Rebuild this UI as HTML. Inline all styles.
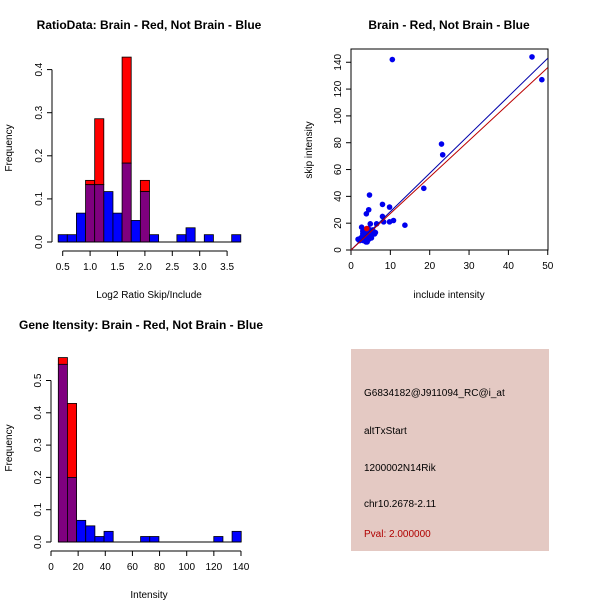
<!DOCTYPE html>
<html><head><meta charset="utf-8"><style>
html,body{margin:0;padding:0;background:#fff;}
svg{display:block;font-family:"Liberation Sans",Arial,sans-serif;}
</style></head><body>
<svg id="s" width="600" height="600" viewBox="0 0 600 600">
<rect x="0" y="0" width="600" height="600" fill="#fff"/>
<text x="149" y="29" text-anchor="middle" font-size="12" font-weight="bold">RatioData: Brain - Red, Not Brain - Blue</text>
<text x="449" y="29" text-anchor="middle" font-size="12" font-weight="bold">Brain - Red, Not Brain - Blue</text>
<text x="141" y="329" text-anchor="middle" font-size="12" font-weight="bold">Gene Itensity: Brain - Red, Not Brain - Blue</text>
<text x="149" y="298" text-anchor="middle" font-size="10">Log2 Ratio Skip/Include</text>
<text transform="translate(12,148) rotate(-90)" text-anchor="middle" font-size="10">Frequency</text>
<text x="449" y="298" text-anchor="middle" font-size="10">include intensity</text>
<text transform="translate(312,150) rotate(-90)" text-anchor="middle" font-size="10">skip intensity</text>
<text x="149" y="598" text-anchor="middle" font-size="10">Intensity</text>
<text transform="translate(12,448) rotate(-90)" text-anchor="middle" font-size="10">Frequency</text>
<g id="g1"></g>
<g id="g2"></g>
<g id="g3"></g>
<g>
<rect x="351" y="349" width="198" height="202" fill="#e4c9c3"/>
<text x="364" y="396" font-size="10">G6834182@J911094_RC@i_at</text>
<text x="364" y="434" font-size="10">altTxStart</text>
<text x="364" y="471" font-size="10">1200002N14Rik</text>
<text x="364" y="507" font-size="10">chr10.2678-2.11</text>
<text x="364" y="537" font-size="10" fill="#b00000">Pval: 2.000000</text>
</g>
</svg>
<script>
// Ratio histogram data
const ratioStart = 0.417, ratioWidth = 1/6;
const ratioBlue = [0.017,0.017,0.067,0.133,0.133,0.117,0.067,0.183,0.05,0.117,0.017,0,0,0.017,0.033,0,0.017,0,0,0.017];
const ratioRed  = [0,0,0,0.143,0.286,0,0,0.429,0,0.143,0,0,0,0,0,0,0,0,0,0];
const ratioXTicks = [0.5,1.0,1.5,2.0,2.5,3.0,3.5];
const ratioXLabels = ["0.5","1.0","1.5","2.0","2.5","3.0","3.5"];
const ratioYTicks = [0,0.1,0.2,0.3,0.4];
const ratioYLabels = ["0.0","0.1","0.2","0.3","0.4"];
// Intensity histogram data
const intStart = 5.38, intWidth = 6.74;
const intBlue = [0.55,0.2,0.067,0.05,0.017,0.033,0,0,0,0.017,0.017,0,0,0,0,0,0,0.017,0,0.033];
const intRed  = [0.571,0.429,0,0,0,0,0,0,0,0,0,0,0,0,0,0,0,0,0,0];
const intXTicks = [0,20,40,60,80,100,120,140];
const intYTicks = [0,0.1,0.2,0.3,0.4,0.5];
const intYLabels = ["0.0","0.1","0.2","0.3","0.4","0.5"];
// Scatter data
const incBlue  = [10.5,46,48.5,23,23.3,18.5,4.7,8,4.5,9.8,3.9,8,9.8,10.8,13.7,4.9,6.5,8.3,2.7,1.8,3,3.5,4,4.5,5,5.5,6,3.2,3.8,4.2,2.5,5,3,2.2,3.6,4.4,4.8,5.2,2.9,3.3,6.2,4.1,3.7];
const skipBlue = [142,144,127,79,71,46,41,34,30,32,27,25,21,22,18.5,19.5,19.5,21,17,8,12,10,14,8,12,15,12,7,6,11,9,10,14,7,13,16,13,9,10,11,13,6,8];
const incRed = [4];
const skipRed = [16];
const blueFit = [0, 2.86];
const redFit = [0, 2.72];
const scXTicks = [0,10,20,30,40,50];
const scYTicks = [0,20,40,60,80,100,120,140];

const NS="http://www.w3.org/2000/svg";
function mk(p,t,a){const e=document.createElementNS(NS,t);for(const k in a)e.setAttribute(k,a[k]);p.appendChild(e);return e;}

function hist(g,start,w,blue,red,xs,ys,xT,xL,yT,yL,yAxisX,xAxisY){
  const x=v=>xs[0]+(v-xs[1])*xs[2];
  const y=v=>ys[0]-v*ys[1];
  for(let i=0;i<blue.length;i++){
    const x0=x(start+i*w),x1=x(start+(i+1)*w);
    const b=blue[i],r=red[i],m=Math.min(b,r);
    if(b>r){const e=mk(g,'rect',{x:x0,y:y(b),width:x1-x0,height:y(r>0?r:0)-y(b),fill:'#0000ff',stroke:'#000','stroke-width':0.8});
      }
    if(r>b){const e=mk(g,'rect',{x:x0,y:y(r),width:x1-x0,height:y(b)-y(r),fill:'#ff0000',stroke:'#000','stroke-width':0.8});
      }
    if(m>0){const e=mk(g,'rect',{x:x0,y:y(m),width:x1-x0,height:y(0)-y(m),fill:'#7f007f',stroke:'#000','stroke-width':0.8});
      }
  }
  mk(g,'line',{x1:x(start),x2:x(start+blue.length*w),y1:y(0),y2:y(0),stroke:'#000','stroke-width':1});
  mk(g,'line',{x1:x(xT[0]),x2:x(xT[xT.length-1]),y1:xAxisY,y2:xAxisY,stroke:'#000'});
  xT.forEach((v,i)=>{mk(g,'line',{x1:x(v),x2:x(v),y1:xAxisY,y2:xAxisY+5,stroke:'#000'});
    const t=mk(g,'text',{x:x(v),y:xAxisY+19,'text-anchor':'middle','font-size':10});t.textContent=xL[i];
    });
  mk(g,'line',{x1:yAxisX,x2:yAxisX,y1:y(yT[0]),y2:y(yT[yT.length-1]),stroke:'#000'});
  yT.forEach((v,i)=>{mk(g,'line',{x1:yAxisX-5,x2:yAxisX,y1:y(v),y2:y(v),stroke:'#000'});
    const t=mk(g,'text',{transform:`translate(${yAxisX-10},${y(v)}) rotate(-90)`,'text-anchor':'middle','font-size':10});t.textContent=yL[i];
    });
}
hist(document.getElementById('g1'),ratioStart,ratioWidth,ratioBlue,ratioRed,[62.7,0.5,54.8],[242,431],ratioXTicks,ratioXLabels,ratioYTicks,ratioYLabels,52,251);
hist(document.getElementById('g3'),intStart,intWidth,intBlue,intRed,[51,0,1.357],[542,323],intXTicks,intXTicks.map(String),intYTicks,intYLabels,51,551);

(function(){
  const g=document.getElementById('g2');
  const x=v=>351+v*3.935, y=v=>250-v*1.341;
  mk(g,'rect',{x:351,y:49,width:197,height:201,fill:'none',stroke:'#000'});
  scXTicks.forEach(v=>{mk(g,'line',{x1:x(v),x2:x(v),y1:250,y2:255,stroke:'#000'});
    const t=mk(g,'text',{x:x(v),y:269,'text-anchor':'middle','font-size':10});t.textContent=v;
    });
  scYTicks.forEach(v=>{mk(g,'line',{x1:346,x2:351,y1:y(v),y2:y(v),stroke:'#000'});
    const t=mk(g,'text',{transform:`translate(341,${y(v)}) rotate(-90)`,'text-anchor':'middle','font-size':10});t.textContent=v;
    });
  for(let i=0;i<incBlue.length;i++){const c=mk(g,'circle',{cx:x(incBlue[i]),cy:y(skipBlue[i]),r:2.8,fill:'#0000ee'});
    }
  for(let i=0;i<incRed.length;i++){const c=mk(g,'circle',{cx:x(incRed[i]),cy:y(skipRed[i]),r:2.8,fill:'#dd0000'});
    }
  const bl=mk(g,'line',{x1:x(0),y1:y(blueFit[0]),x2:x(50),y2:y(blueFit[0]+50*blueFit[1]),stroke:'#0000aa','stroke-width':1});
  
  const rl=mk(g,'line',{x1:x(0),y1:y(redFit[0]),x2:x(50),y2:y(redFit[0]+50*redFit[1]),stroke:'#bb0000','stroke-width':1});
  
})();
</script>
</body></html>
